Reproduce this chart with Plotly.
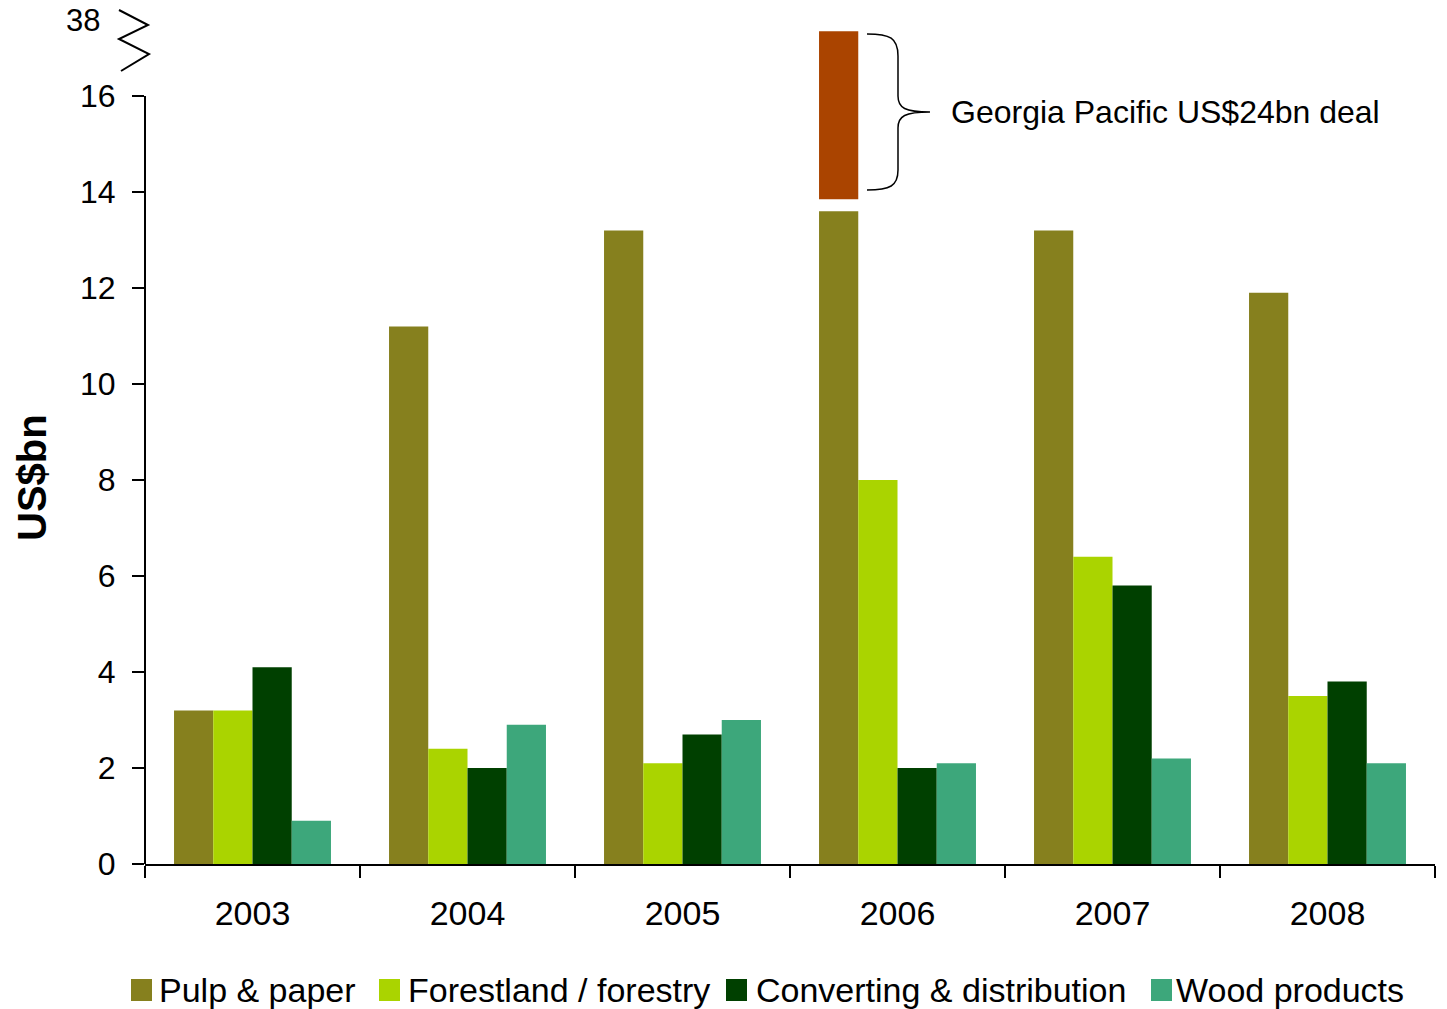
import plotly.graph_objects as go

# ---------------- data ----------------
years = ["2003", "2004", "2005", "2006", "2007", "2008"]
pulp_paper = [3.2, 11.2, 13.2, 13.6, 13.2, 11.9]
forestland = [3.2, 2.4, 2.1, 8.0, 6.4, 3.5]
converting = [4.1, 2.0, 2.7, 2.0, 5.8, 3.8]
wood_products = [0.9, 2.9, 3.0, 2.1, 2.2, 2.1]

series_names = ["Pulp & paper", "Forestland / forestry", "Converting & distribution", "Wood products"]
series_values = [pulp_paper, forestland, converting, wood_products]
series_colors = ["#86801E", "#AAD400", "#004000", "#3DA77B"]

deal_year = "2006"
deal_value = 24            # Georgia Pacific deal, US$bn
deal_label = "Georgia Pacific US$24bn deal"
deal_color = "#AA4400"
# broken-axis display of the deal segment (axis units above the break)
deal_display_base = 13.85
deal_display_top = 17.35
break_label_pos = 17.58

y_ticks = [0, 2, 4, 6, 8, 10, 12, 14, 16]

# ---------------- geometry helpers (pixel -> paper) ----------------
W, H = 1447, 1009
ML, MR, MT, MB = 145, 12, 0, 145
PW, PH = W - ML - MR, H - MT - MB


def px(x):
    return (x - ML) / PW


def py(y):
    return (H - MB - y) / PH


FONT = "Liberation Sans, Arial, sans-serif"

fig = go.Figure()
for name, vals, col in zip(series_names, series_values, series_colors):
    fig.add_trace(go.Bar(x=years, y=vals, name=name, marker_color=col,
                         marker_line_width=0, offsetgroup=name, showlegend=False))

# deal segment drawn above the axis break, aligned with the pulp & paper bar
fig.add_trace(go.Bar(x=[deal_year], y=[deal_display_top - deal_display_base],
                     base=[deal_display_base], marker_color=deal_color,
                     marker_line_width=0, offsetgroup=series_names[0],
                     name="Georgia Pacific deal", showlegend=False))

shapes = []
# y axis line (only up to 16, then break)
shapes.append(dict(type="line", xref="paper", yref="y", x0=0, x1=0, y0=0, y1=y_ticks[-1],
                   line=dict(color="black", width=2)))
# zigzag break symbol
zz = [(119, 10), (148, 25), (119, 39), (149, 54), (121, 71)]
path = "M " + " L ".join(f"{px(a):.5f},{py(b):.5f}" for a, b in zz)
shapes.append(dict(type="path", xref="paper", yref="paper", path=path,
                   line=dict(color="black", width=2)))
# curly brace
bp = [("M", [(867, 34)]), ("C", [(890, 34), (898, 38), (898, 56)]), ("L", [(898, 96)]),
      ("C", [(898, 108), (905, 112), (930, 112)]), ("C", [(905, 112), (898, 116), (898, 128)]),
      ("L", [(898, 170)]), ("C", [(898, 186), (890, 190), (867, 190)])]
bpath = " ".join(cmd + " " + " ".join(f"{px(a):.5f},{py(b):.5f}" for a, b in pts) for cmd, pts in bp)
shapes.append(dict(type="path", xref="paper", yref="paper", path=bpath,
                   line=dict(color="black", width=1.5)))

annotations = []
annotations.append(dict(text=deal_label, xref="paper", yref="paper", x=px(949), y=py(112),
                        xanchor="left", yanchor="middle", showarrow=False,
                        font=dict(family=FONT, size=32, color="black")))
annotations.append(dict(text=str(round(pulp_paper[years.index(deal_year)] + deal_value)),
                        xref="paper", yref="y", x=px(102), y=break_label_pos,
                        xanchor="right", yanchor="middle", showarrow=False,
                        font=dict(family=FONT, size=31, color="black")))
annotations.append(dict(text="<b>US$bn</b>", xref="paper", yref="paper", x=px(32), y=py(477),
                        xanchor="center", yanchor="middle", textangle=-90, showarrow=False,
                        font=dict(family=FONT, size=40, color="black")))

# manual legend
sq_left = [131, 379, 726, 1151]
tx_left = [157, 406, 754, 1174]
ly = 990
for name, col, sl, tl in zip(series_names, series_colors, sq_left, tx_left):
    shapes.append(dict(type="rect", xref="paper", yref="paper", x0=px(sl), x1=px(sl + 21),
                       y0=py(ly + 11), y1=py(ly - 11), fillcolor=col, line=dict(width=0)))
    annotations.append(dict(text=name, xref="paper", yref="paper", x=px(tl), y=py(ly),
                            xanchor="left", yanchor="middle", showarrow=False,
                            font=dict(family=FONT, size=34, color="black")))

fig.update_layout(
    width=W, height=H,
    margin=dict(l=ML, r=MR, t=MT, b=MB, autoexpand=False),
    paper_bgcolor="white", plot_bgcolor="white",
    barmode="group", bargap=0.27, bargroupgap=0,
    font=dict(family=FONT, color="black"),
    shapes=shapes, annotations=annotations,
    xaxis=dict(type="category", showline=True, linecolor="black", linewidth=2,
               ticks="outside", tickson="boundaries", ticklen=12, tickwidth=2, tickcolor="black",
               tickfont=dict(family=FONT, size=34, color="black"), ticklabelstandoff=18,
               showgrid=False, zeroline=False, automargin=False),
    yaxis=dict(range=[0, 18], tickvals=y_ticks, showline=False, ticks="outside", ticklen=12,
               tickwidth=2, tickcolor="black", showgrid=False, zeroline=False,
               tickfont=dict(family=FONT, size=32, color="black"), ticklabelstandoff=10,
               automargin=False),
)

fig.write_html("out.html")
